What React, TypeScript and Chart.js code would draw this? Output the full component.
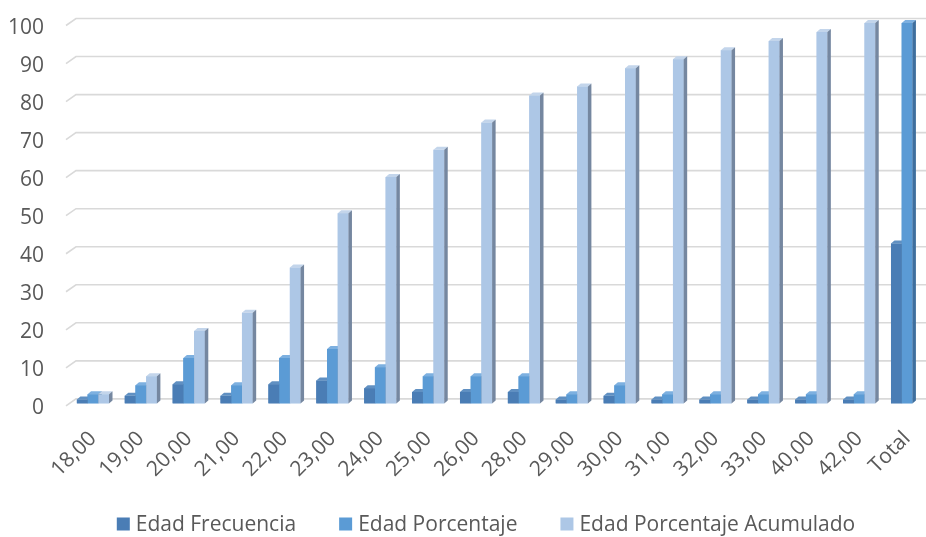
import React, { useEffect, useRef } from "react";
import { Chart, registerables } from "chart.js";

Chart.register(...registerables);

const categories = ["18,00", "19,00", "20,00", "21,00", "22,00", "23,00", "24,00", "25,00", "26,00", "28,00", "29,00", "30,00", "31,00", "32,00", "33,00", "40,00", "42,00", "Total"];
const frecuencia = [1, 2, 5, 2, 5, 6, 4, 3, 3, 3, 1, 2, 1, 1, 1, 1, 1, 42];
const porcentaje = [2.38, 4.76, 11.9, 4.76, 11.9, 14.29, 9.52, 7.14, 7.14, 7.14, 2.38, 4.76, 2.38, 2.38, 2.38, 2.38, 2.38, 100];
const acumulado: (number | null)[] = [2.38, 7.14, 19.05, 23.81, 35.71, 50.0, 59.52, 66.67, 73.81, 80.95, 83.33, 88.1, 90.48, 92.86, 95.24, 97.62, 100, null];
const seriesNames = ["Edad Frecuencia", "Edad Porcentaje", "Edad Porcentaje Acumulado"];
const yTicks = [0, 10, 20, 30, 40, 50, 60, 70, 80, 90, 100];

const FRONT = ["#4A7DB5", "#5B9BD5", "#ADC7E6"];
const TOP = ["#6090C2", "#7DB0E0", "#C3D5EB"];
const SIDE = ["#35608C", "#3F6F9E", "#7587A0"];
const TEXT = "#595959";
const FONT = "'Open Sans', sans-serif";
const FS = 21;

const DX = 3.5;
const DY = 3;

const gridPlugin = {
  id: "grid3d",
  beforeDatasetsDraw(chart: any) {
    const { ctx, chartArea, scales } = chart;
    const y = scales.y;
    ctx.save();
    ctx.strokeStyle = "#D9D9D9";
    ctx.lineWidth = 1.6;
    for (const v of yTicks) {
      const back = y.getPixelForValue(v) - 4.5;
      const front = back + 7;
      ctx.beginPath();
      ctx.moveTo(chartArea.left - 3, front);
      ctx.lineTo(chartArea.left + 7, back);
      ctx.lineTo(chartArea.right + 40, back);
      ctx.stroke();
    }
    ctx.restore();
  },
};

const bars3dPlugin = {
  id: "bars3d",
  afterDatasetsDraw(chart: any) {
    const { ctx } = chart;
    const metas = chart.data.datasets.map((_: any, i: number) => chart.getDatasetMeta(i));
    ctx.save();
    for (let c = 0; c < categories.length; c++) {
      for (let d = 0; d < metas.length; d++) {
        const el = metas[d].data[c];
        const raw = chart.data.datasets[d].data[c];
        if (!el || raw === null || raw === undefined) continue;
        const { x, y, base, width } = el.getProps(["x", "y", "base", "width"], true);
        const xl = x - width / 2;
        const xr = x + width / 2;
        ctx.fillStyle = FRONT[d];
        ctx.fillRect(xl, y, xr - xl, base - y);
        ctx.fillStyle = TOP[d];
        ctx.beginPath();
        ctx.moveTo(xl, y);
        ctx.lineTo(xr, y);
        ctx.lineTo(xr + DX, y - DY);
        ctx.lineTo(xl + DX, y - DY);
        ctx.closePath();
        ctx.fill();
        ctx.fillStyle = SIDE[d];
        ctx.beginPath();
        ctx.moveTo(xr, y);
        ctx.lineTo(xr + DX, y - DY);
        ctx.lineTo(xr + DX, base - DY);
        ctx.lineTo(xr, base);
        ctx.closePath();
        ctx.fill();
      }
    }
    ctx.restore();
  },
};

const legendPlugin = {
  id: "legendCustom",
  afterDraw(chart: any) {
    const { ctx } = chart;
    ctx.save();
    ctx.font = `${FS}px ${FONT}`;
    ctx.textBaseline = "middle";
    ctx.textAlign = "left";
    const box = 13;
    const gapText = 6;
    const gapItem = 43;
    const widths = seriesNames.map((n) => ctx.measureText(n).width);
    const total = widths.reduce((a, w) => a + box + gapText + w, 0) + gapItem * (seriesNames.length - 1);
    let x = chart.width / 2 - total / 2;
    const cy = 524;
    seriesNames.forEach((n, i) => {
      ctx.fillStyle = FRONT[i];
      ctx.fillRect(x, cy - box / 2, box, box);
      ctx.fillStyle = TEXT;
      ctx.fillText(n, x + box + gapText, cy + 1);
      x += box + gapText + widths[i] + gapItem;
    });
    ctx.restore();
  },
};

export default function App() {
  const ref = useRef<HTMLCanvasElement | null>(null);
  useEffect(() => {
    document.body.style.margin = "0";
    if (!ref.current) return;
    const chart = new Chart(ref.current, {
      type: "bar",
      data: {
        labels: categories,
        datasets: [
          { label: seriesNames[0], data: frecuencia, backgroundColor: FRONT[0] },
          { label: seriesNames[1], data: porcentaje, backgroundColor: FRONT[1] },
          { label: seriesNames[2], data: acumulado, backgroundColor: FRONT[2] },
        ],
      },
      options: {
        animation: false,
        responsive: false,
        maintainAspectRatio: false,
        layout: { padding: { left: 8, right: 41, top: 23, bottom: 32 } },
        datasets: { bar: { categoryPercentage: 0.671, barPercentage: 1 } },
        plugins: { legend: { display: false }, tooltip: { enabled: false } },
        scales: {
          x: {
            grid: { display: false, drawTicks: false },
            border: { display: false },
            afterFit: (s: any) => {
              s.paddingLeft = 0;
              s.paddingRight = 0;
            },
            ticks: {
              autoSkip: false,
              maxRotation: 45,
              minRotation: 45,
              padding: 23,
              color: TEXT,
              font: { family: FONT, size: FS },
            },
          },
          y: {
            min: 0,
            max: 100,
            grid: { display: false, drawTicks: false },
            border: { display: false },
            afterFit: (s: any) => {
              s.paddingTop = 0;
              s.paddingBottom = 0;
              s.width = 61;
            },
            ticks: {
              stepSize: 10,
              padding: 25,
              labelOffset: 5,
              color: TEXT,
              font: { family: FONT, size: FS },
            },
          },
        },
      },
      plugins: [gridPlugin, bars3dPlugin, legendPlugin],
    });
    return () => chart.destroy();
  }, []);
  return (
    <div style={{ width: 926, height: 537, overflow: "hidden", background: "#fff" }}>
      <canvas ref={ref} width={972} height={537} style={{ display: "block" }} />
    </div>
  );
}
